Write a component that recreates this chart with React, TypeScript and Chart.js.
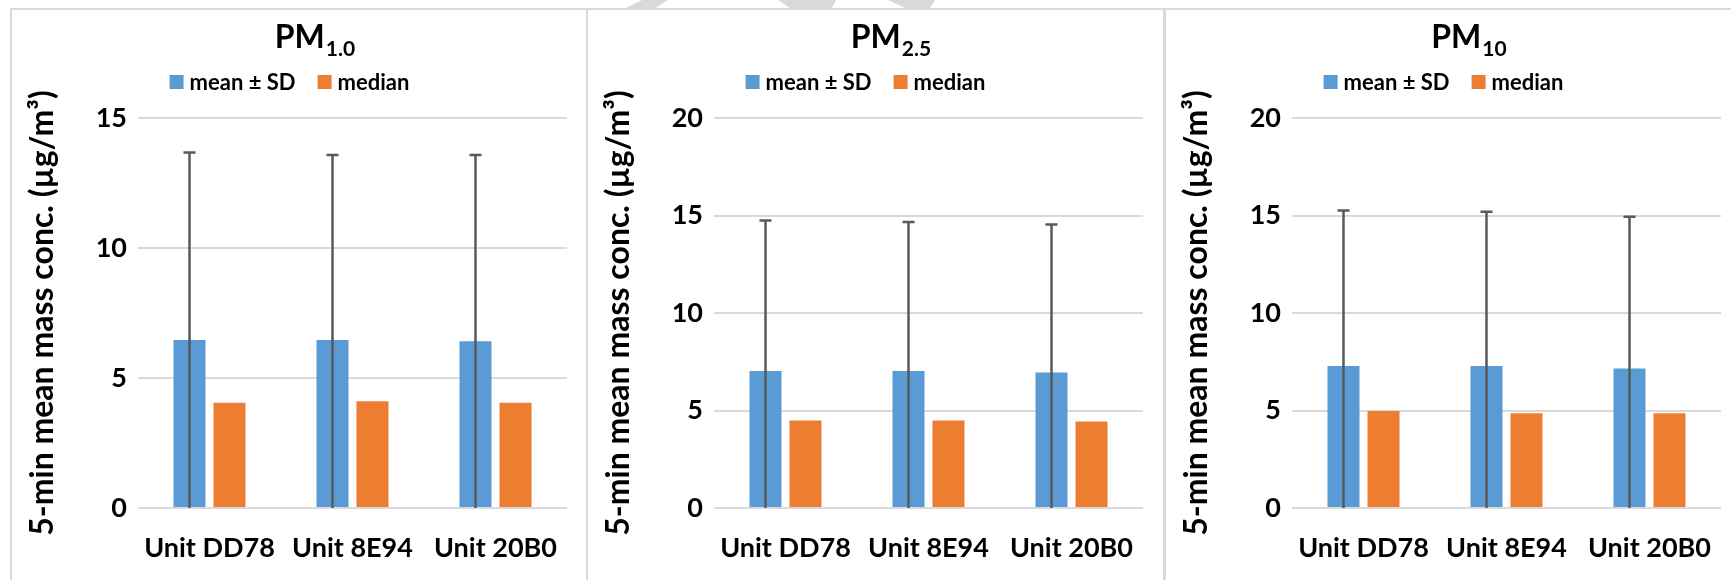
import React, { useEffect, useRef } from 'react';
import { Chart, registerables } from 'chart.js';

Chart.register(...registerables);

// ---- data ----
const categories = ['Unit DD78', 'Unit 8E94', 'Unit 20B0'];
const legendLabels = ['mean ± SD', 'median'];
const yAxisTitle = '5-min mean mass conc. (µg/m³)';

const pm1Mean = [6.46, 6.46, 6.41];
const pm1Sd = [7.21, 7.12, 7.17];
const pm1Median = [4.05, 4.11, 4.05];

const pm25Mean = [7.02, 7.02, 6.95];
const pm25Sd = [7.72, 7.65, 7.59];
const pm25Median = [4.49, 4.49, 4.44];

const pm10Mean = [7.28, 7.28, 7.16];
const pm10Sd = [7.98, 7.91, 7.78];
const pm10Median = [4.98, 4.86, 4.86];

const panelTitles = ['PM', 'PM', 'PM'];
const panelSubs = ['1.0', '2.5', '10'];
const yMaxes = [15, 20, 20];
const yStep = 5;

// ---- styles ----
const FONT = 'Lato, "Open Sans", sans-serif';
const BLUE = '#5B9BD5';
const ORANGE = '#ED7D31';
const GRID = '#D9D9D9';
const ERR = '#595959';
const TEXT = '#000000';

const CANVAS_W = 572;
const CANVAS_H = 570;

const errorBarPlugin = {
  id: 'errorBars',
  afterDatasetsDraw(chart: any) {
    const ds: any = chart.data.datasets[0];
    const sd: number[] = ds.errorSd;
    if (!sd) return;
    const meta = chart.getDatasetMeta(0);
    const y = chart.scales.y;
    const { ctx, chartArea } = chart;
    ctx.save();
    ctx.strokeStyle = ERR;
    ctx.lineWidth = 2.5;
    meta.data.forEach((bar: any, i: number) => {
      const v = ds.data[i];
      const hi = y.getPixelForValue(v + sd[i]);
      const loRaw = y.getPixelForValue(v - sd[i]);
      const lo = Math.min(loRaw, chartArea.bottom);
      ctx.beginPath();
      ctx.moveTo(bar.x, hi);
      ctx.lineTo(bar.x, lo);
      ctx.moveTo(bar.x - 6, hi);
      ctx.lineTo(bar.x + 6, hi);
      if (loRaw <= chartArea.bottom) {
        ctx.moveTo(bar.x - 6, loRaw);
        ctx.lineTo(bar.x + 6, loRaw);
      }
      ctx.stroke();
    });
    ctx.restore();
  },
};

const headerPlugin = {
  id: 'panelHeader',
  afterDraw(chart: any, _args: any, opts: any) {
    const { ctx, chartArea } = chart;
    const cx = (chartArea.left + chartArea.right) / 2;
    ctx.save();
    ctx.fillStyle = TEXT;
    ctx.textBaseline = 'alphabetic';
    ctx.textAlign = 'left';
    // title with subscript
    ctx.font = `bold 32px ${FONT}`;
    const wMain = ctx.measureText(opts.main).width;
    ctx.font = `bold 21px ${FONT}`;
    const wSub = ctx.measureText(opts.sub).width;
    const tx = cx + opts.titleDx - (wMain + wSub) / 2;
    ctx.font = `bold 32px ${FONT}`;
    ctx.fillText(opts.main, tx, 38);
    ctx.font = `bold 21px ${FONT}`;
    ctx.fillText(opts.sub, tx + wMain + 1, 46);

    // legend
    const box = 14;
    const gapBox = 6;
    const gapItem = 22;
    ctx.font = `bold 22px ${FONT}`;
    const items = opts.items as { text: string; color: string }[];
    const widths = items.map((it) => ctx.measureText(it.text).width);
    let total = 0;
    widths.forEach((w, i) => {
      total += box + gapBox + w + (i < widths.length - 1 ? gapItem : 0);
    });
    let x = cx + opts.legendDx - total / 2;
    items.forEach((it, i) => {
      ctx.fillStyle = it.color;
      ctx.fillRect(x, 65, box, box);
      ctx.fillStyle = TEXT;
      ctx.fillText(it.text, x + box + gapBox, 80);
      x += box + gapBox + widths[i] + gapItem;
    });
    ctx.restore();
  },
};

function Panel(props: {
  index: number;
  mean: number[];
  sd: number[];
  median: number[];
}) {
  const ref = useRef<HTMLCanvasElement | null>(null);
  const { index, mean, sd, median } = props;
  useEffect(() => {
    if (!ref.current) return;
    const chart = new Chart(ref.current, {
      type: 'bar',
      data: {
        labels: categories,
        datasets: [
          {
            label: legendLabels[0],
            data: mean,
            backgroundColor: BLUE,
            errorSd: sd,
          } as any,
          {
            label: legendLabels[1],
            data: median,
            backgroundColor: ORANGE,
          },
        ],
      },
      options: {
        animation: false,
        responsive: false,
        maintainAspectRatio: false,
        layout: { padding: { top: 108, right: 17, left: 0, bottom: 0 } },
        datasets: {
          bar: { categoryPercentage: 0.5594, barPercentage: 0.8 },
        },
        plugins: {
          legend: { display: false },
          title: { display: false },
          tooltip: { enabled: false },
          panelHeader: {
            main: panelTitles[index],
            sub: panelSubs[index],
            titleDx: -38,
            legendDx: -63,
            items: [
              { text: legendLabels[0], color: BLUE },
              { text: legendLabels[1], color: ORANGE },
            ],
          },
        } as any,
        scales: {
          x: {
            grid: { display: false, drawTicks: false },
            border: { display: false },
            ticks: {
              font: { family: FONT, size: 27, weight: 'bold' },
              color: TEXT,
              padding: 24,
              maxRotation: 0,
            },
            afterFit: (s: any) => {
              s.height = 72;
            },
          },
          y: {
            min: 0,
            max: yMaxes[index],
            ticks: {
              stepSize: yStep,
              font: { family: FONT, size: 27, weight: 'bold' },
              color: TEXT,
              padding: 11,
            },
            grid: { color: GRID, lineWidth: 2, drawTicks: false },
            border: { display: false },
            title: {
              display: true,
              text: yAxisTitle,
              font: { family: FONT, size: 32, weight: 'bold' },
              color: TEXT,
              padding: { top: 11, bottom: 0 },
            },
            afterFit: (s: any) => {
              s.width = 126;
            },
          },
        },
      } as any,
      plugins: [errorBarPlugin, headerPlugin],
    });
    return () => chart.destroy();
  }, [index, mean, sd, median]);
  return (
    <canvas
      ref={ref}
      width={CANVAS_W}
      height={CANVAS_H}
      style={{ display: 'block', width: CANVAS_W, height: CANVAS_H }}
    />
  );
}

const panelLefts = [10, 586, 1164];

export default function App() {
  const series = [
    { mean: pm1Mean, sd: pm1Sd, median: pm1Median },
    { mean: pm25Mean, sd: pm25Sd, median: pm25Median },
    { mean: pm10Mean, sd: pm10Sd, median: pm10Median },
  ];
  return (
    <div
      style={{
        position: 'fixed',
        left: 0,
        top: 0,
        width: 1731,
        height: 580,
        overflow: 'hidden',
        background: '#fff',
      }}
    >
      <svg
        width={1731}
        height={12}
        style={{ position: 'absolute', left: 0, top: 0 }}
      >
        <polygon points="626,8 642,0 668,0 655,8" fill="#D9D9D9" />
        <polygon points="778,0 836,0 832,8 790,8" fill="#D9D9D9" />
        <polygon points="888,0 935,0 930,8 905,8" fill="#D9D9D9" />
      </svg>
      {series.map((s, i) => (
        <div
          key={i}
          style={{
            position: 'absolute',
            left: panelLefts[i],
            top: 8,
            width: 579,
            height: 600,
            border: `2px solid ${GRID}`,
            boxSizing: 'border-box',
            background: '#fff',
          }}
        >
          <Panel index={i} mean={s.mean} sd={s.sd} median={s.median} />
        </div>
      ))}
    </div>
  );
}
